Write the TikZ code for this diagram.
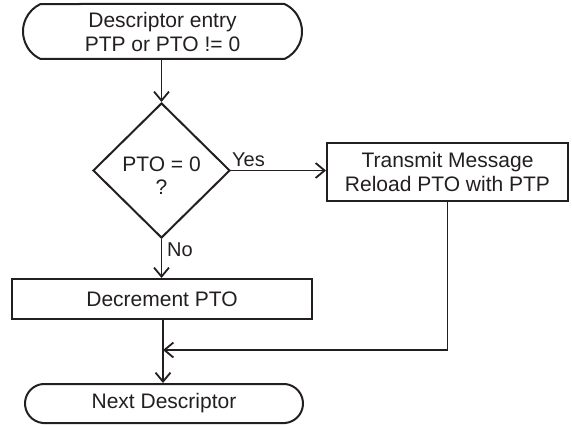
\documentclass[tikz,border=0pt]{standalone}
\usepackage{fontspec}
\setmainfont{Liberation Sans}
\usetikzlibrary{arrows.meta,shapes.geometric,shapes.misc}
\definecolor{ink}{HTML}{231F20}
\tikzset{
  base/.style={draw=ink, line width=2pt, text=ink, font=\fontsize{21}{24}\selectfont, align=center, inner sep=0pt},
  term/.style={base, rounded rectangle, rounded rectangle arc length=130},
  procbox/.style={base, rectangle},
  decision/.style={base, diamond},
  conn/.style={draw=ink, line width=1.8pt, -{Straight Barb[length=9pt,width=15pt,line width=1.8pt]}},
  plain/.style={draw=ink, line width=1.8pt},
  lbl/.style={text=ink, font=\fontsize{20}{24}\selectfont, inner sep=0pt}
}
\begin{document}
\begin{tikzpicture}[x=1pt,y=-1pt]
\useasboundingbox (0,0) rectangle (572,425);
\node[term, minimum width=279pt, minimum height=55pt] (start) at (162.5,31.5) {Descriptor entry\\PTP or PTO != 0};
\node[decision, minimum width=137pt, minimum height=135pt] (dec) at (161.5,170.5) {};
\node[text=ink, font=\fontsize{21}{23}\selectfont, align=center, inner sep=0pt] (dectext) at (161.5,176) {PTO = 0\\?};
\node[procbox, minimum width=241pt, minimum height=58pt] (tx) at (447.5,172) {Transmit Message\\Reload PTO with PTP};
\node[procbox, minimum width=300pt, minimum height=40pt] (decr) at (162,299) {Decrement PTO};
\node[term, rounded rectangle arc length=170, minimum width=278pt, minimum height=39pt] (next) at (164,403.5) {Next Descriptor};
\node[lbl, anchor=base west] (yes) at (232,166) {Yes};
\node[lbl, anchor=base west] (no) at (167,256) {No};
\coordinate (join) at (163,350);
\draw[conn] (start.south -| dec.north) -- (dec.north);
\draw[conn] (dec.east) -- (dec.east -| tx.west);
\draw[conn] (dec.south) -- (dec.south |- decr.north);
\draw[plain] (tx.south) |- (join) ;
\draw[conn] (tx.south |- join) -- (join);
\draw[conn] (join |- decr.south) -- (join |- next.north);
\end{tikzpicture}
\end{document}
